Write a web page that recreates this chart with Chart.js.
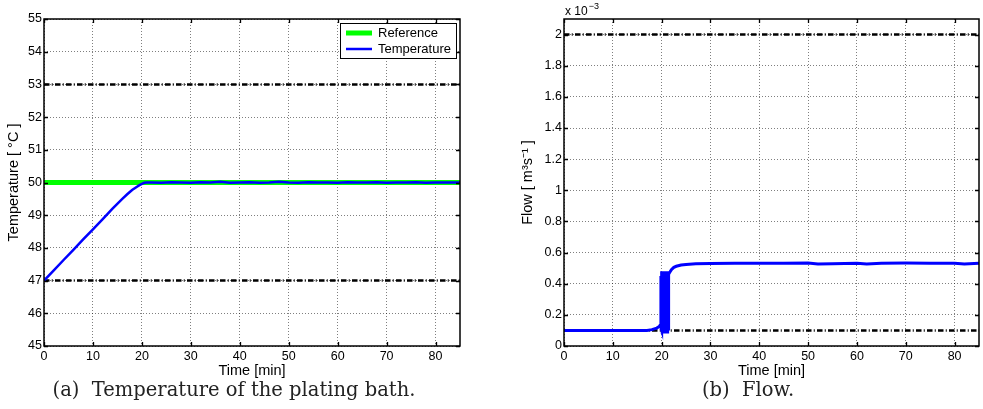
<!DOCTYPE html>
<html><head><meta charset="utf-8">
<script src="https://cdn.jsdelivr.net/npm/chart.js@4.4.1/dist/chart.umd.min.js"></script>
<style>
html,body{margin:0;padding:0;background:#fff;}
#wrap{position:relative;width:983px;height:409px;overflow:hidden;background:#fff;}
canvas{position:absolute;top:0;}
#c1{left:0}
#c2{left:490px}
.cap{position:absolute;top:378px;font-family:"DejaVu Serif",serif;font-size:19.5px;line-height:24px;color:#222;white-space:nowrap;transform:translateX(-50%);}
</style></head><body>
<div id="wrap">
<canvas id="c1" width="490" height="409"></canvas>
<canvas id="c2" width="493" height="409"></canvas>
<div class="cap" style="left:234px">(a)&nbsp; Temperature of the plating bath.</div>
<div class="cap" style="left:748px">(b)&nbsp; Flow.</div>
</div>
<script>
// ---------- data ----------
const timeTicks = [0,10,20,30,40,50,60,70,80];
const tempTicks = [45,46,47,48,49,50,51,52,53,54,55];
const flowTicks = [0,0.2,0.4,0.6,0.8,1,1.2,1.4,1.6,1.8,2];

const tempTime = [0,2,4,6,8,10,12,14,16,17,18,19,19.5,20,20.5,21,22,24,26,28,30,32,34,36,38,40,42,44,46,48,50,52,54,56,58,60,62,64,66,68,70,72,74,76,78,80,82,85];
const tempValues = [47.00,47.31,47.63,47.94,48.26,48.57,48.88,49.20,49.50,49.64,49.77,49.87,49.92,49.96,49.99,50.00,50.00,49.99,50.01,50.00,49.99,50.01,50.00,50.02,49.99,50.00,50.01,49.99,50.00,50.02,50.00,49.99,50.01,50.00,50.00,49.99,50.01,50.00,50.00,50.01,49.99,50.00,50.00,50.01,49.99,50.00,50.00,50.00];
const refTime = [0,85];
const refValues = [50,50];
const tempLimitTime = [0,85];
const tempUpper = [53,53];
const tempLower = [47,47];

const flowTime = [0,5,10,15,17,18,19,19.5,19.8,
  19.85,19.9,19.95,20.0,20.05,20.1,20.15,20.2,20.25,20.3,20.35,20.4,20.45,20.5,20.55,20.6,20.65,20.7,20.75,20.8,20.85,20.9,20.95,21.0,21.05,21.1,21.15,21.2,21.25,21.3,21.35,21.4,
  21.45,21.6,22,22.5,23,24,25,27,30,35,40,45,50,52,55,60,62,65,70,75,80,82,85];
const flowValues = [0.1,0.1,0.1,0.1,0.1,0.105,0.115,0.125,0.14,
  0.45,0.11,0.47,0.1,0.48,0.09,0.46,0.1,0.48,0.09,0.47,0.1,0.48,0.09,0.46,0.1,0.48,0.09,0.47,0.1,0.48,0.09,0.46,0.1,0.48,0.09,0.47,0.1,0.48,0.09,0.46,0.1,
  0.46,0.47,0.49,0.505,0.512,0.52,0.524,0.528,0.53,0.532,0.531,0.532,0.533,0.526,0.529,0.531,0.527,0.531,0.533,0.532,0.531,0.527,0.532];
const flowLimitTime = [0,85];
const flowUpper = [2,2];
const flowLower = [0.1,0.1];

const legendLabels = ['Reference','Temperature'];

// ---------- helpers ----------
const pts = (xs, ys) => xs.map((x,i)=>({x:x, y:ys[i]}));
const FONT = 'Liberation Sans, Arial, Helvetica, sans-serif';
const DASHDOT = [5.5,2.25,1,2.25];
const TITLE_FONT = {family:FONT, size:14.5};

const framePlugin = {
  id:'frame',
  afterDatasetsDraw(chart){
    const {ctx, chartArea:a, scales:{x,y}} = chart;
    ctx.save();
    ctx.strokeStyle='#000'; ctx.lineWidth=1.3; ctx.setLineDash([]);
    ctx.beginPath();
    x.ticks.forEach(t=>{const p=Math.round(x.getPixelForValue(t.value))+0.5;
      ctx.moveTo(p,a.bottom); ctx.lineTo(p,a.bottom-4);
      ctx.moveTo(p,a.top); ctx.lineTo(p,a.top+4);});
    y.ticks.forEach(t=>{const p=Math.round(y.getPixelForValue(t.value))+0.5;
      ctx.moveTo(a.left,p); ctx.lineTo(a.left+4,p);
      ctx.moveTo(a.right,p); ctx.lineTo(a.right-4,p);});
    ctx.stroke();
    ctx.lineWidth=1.5;
    ctx.strokeRect(a.left, a.top, a.right-a.left, a.bottom-a.top);
    ctx.restore();
  }
};

const boxLegendPlugin = {
  id:'boxLegend',
  afterDraw(chart, args, opts){
    if(!opts || !opts.labels) return;
    const {ctx, chartArea:a} = chart;
    const items = opts.labels.map(l=>chart.data.datasets.find(d=>d.label===l));
    const w=116, h=35, x0=a.right-4-w, y0=a.top+4;
    ctx.save();
    ctx.fillStyle='#fff'; ctx.fillRect(x0,y0,w,h);
    ctx.strokeStyle='#000'; ctx.lineWidth=1; ctx.setLineDash([]);
    ctx.strokeRect(x0+0.5,y0+0.5,w,h);
    items.forEach((d,i)=>{
      const yy = y0+10+i*16;
      ctx.strokeStyle=d.borderColor; ctx.lineWidth=d.borderWidth;
      ctx.beginPath(); ctx.moveTo(x0+6,yy); ctx.lineTo(x0+32,yy); ctx.stroke();
      ctx.fillStyle='#000'; ctx.font='13px '+FONT; ctx.textBaseline='middle';
      ctx.fillText(d.label, x0+38, yy+0.5);
    });
    ctx.restore();
  }
};

const exponentPlugin = {
  id:'exponent',
  afterDraw(chart, args, opts){
    if(!opts || !opts.text) return;
    const {ctx, chartArea:a} = chart;
    ctx.save();
    ctx.fillStyle='#000'; ctx.textBaseline='alphabetic';
    ctx.font='12px '+FONT;
    ctx.fillText(opts.text, a.left+1, 15);
    const w = ctx.measureText(opts.text).width;
    ctx.font='9px '+FONT;
    ctx.fillText(opts.exp, a.left+2+w, 9);
    ctx.restore();
  }
};

function makeChart(id, datasets, yTicks, yMin, yMax, yTitle, padLeft, yWidth, padRight, extra){
  return new Chart(document.getElementById(id), {
    type:'line',
    data:{datasets:datasets},
    plugins:[framePlugin, boxLegendPlugin, exponentPlugin],
    options:{
      responsive:false, animation:false, devicePixelRatio:1,
      layout:{padding:{left:padLeft, right:padRight, top:19, bottom:29}},
      elements:{point:{radius:0}, line:{tension:0}},
      plugins:Object.assign({legend:{display:false}, tooltip:{enabled:false}}, extra),
      scales:{
        x:{type:'linear', min:0, max:85,
          afterBuildTicks:s=>{s.ticks=timeTicks.map(v=>({value:v}));},
          afterFit:s=>{s.height=34;},
          grid:{color:'rgba(0,0,0,0.5)', lineWidth:1, drawTicks:false},
          border:{display:false, dash:[1,2]},
          ticks:{font:{family:FONT,size:12.5}, color:'#000', padding:3, maxRotation:0, autoSkip:false},
          title:{display:true, text:'Time [min]', font:TITLE_FONT, color:'#000', padding:{top:0,bottom:0}}
        },
        y:{type:'linear', min:yMin, max:yMax,
          afterBuildTicks:s=>{s.ticks=yTicks.map(v=>({value:v}));},
          afterFit:s=>{s.width=yWidth;},
          grid:{color:'rgba(0,0,0,0.5)', lineWidth:1, drawTicks:false},
          border:{display:false, dash:[1,2]},
          ticks:{font:{family:FONT,size:12.5}, color:'#000', padding:2, autoSkip:false, callback:v=>String(v)},
          title:{display:true, text:yTitle, font:TITLE_FONT, color:'#000', padding:{top:5,bottom:0}}
        }
      }
    }
  });
}

makeChart('c1', [
  {label:'Temperature', data:pts(tempTime,tempValues), borderColor:'#0000ff', borderWidth:2.5, order:0},
  {label:'Upper limit', data:pts(tempLimitTime,tempUpper), borderColor:'#000', borderWidth:2.5, borderDash:DASHDOT, order:1},
  {label:'Lower limit', data:pts(tempLimitTime,tempLower), borderColor:'#000', borderWidth:2.5, borderDash:DASHDOT, order:1},
  {label:'Reference', data:pts(refTime,refValues), borderColor:'#00ff00', borderWidth:5, order:2}
], tempTicks, 45, 55, 'Temperature [ °C ]', 0, 44, 30, {boxLegend:{labels:legendLabels}});

makeChart('c2', [
  {label:'Flow', data:pts(flowTime,flowValues), borderColor:'#0000ff', borderWidth:3, order:0},
  {label:'Upper limit', data:pts(flowLimitTime,flowUpper), borderColor:'#000', borderWidth:2.5, borderDash:DASHDOT, order:1},
  {label:'Lower limit', data:pts(flowLimitTime,flowLower), borderColor:'#000', borderWidth:2.5, borderDash:DASHDOT, order:1}
], flowTicks, 0, 2.1, 'Flow [ m³s⁻¹ ]', 24, 50, 4, {exponent:{text:'x 10', exp:'−3'}});
</script>
</body></html>
